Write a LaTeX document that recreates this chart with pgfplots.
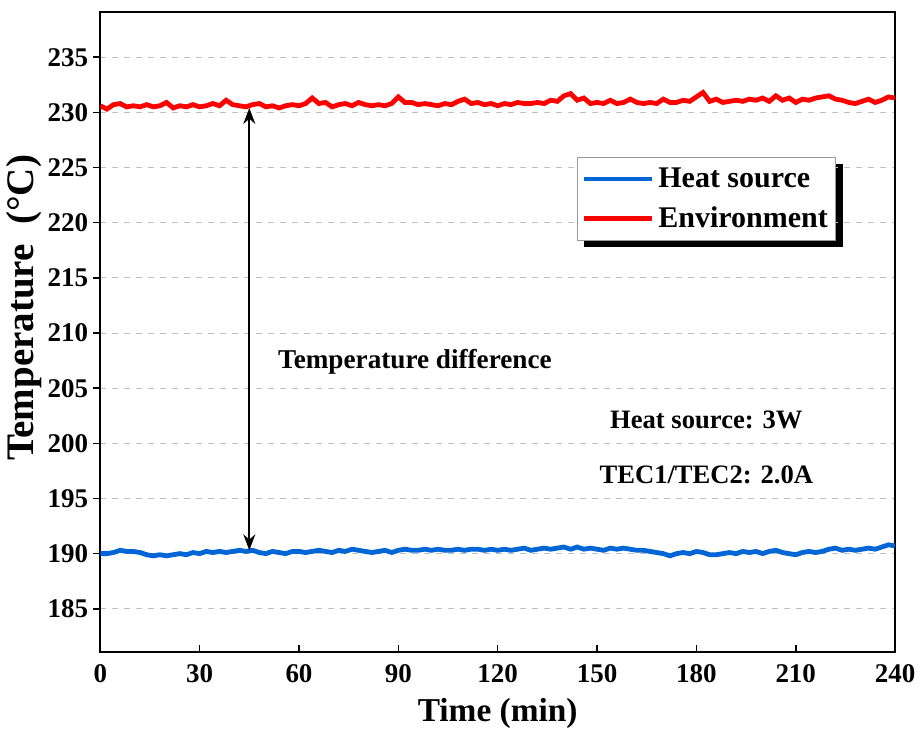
\documentclass[border=0pt]{standalone}
\usepackage{pgfplots}
\pgfplotsset{compat=1.18}
\usepackage{pgfplotstable}
\usepackage{fontspec}
\setmainfont{Liberation Serif}
\usetikzlibrary{arrows.meta,backgrounds}
\definecolor{hsblue}{RGB}{0,102,214}
\definecolor{envred}{RGB}{255,0,0}

% heat source temperature (min, degC)
\pgfplotstableread{
t T
0 190.0
2 190.0
4 190.1
6 190.3
8 190.2
10 190.2
12 190.1
14 189.9
16 189.8
18 189.9
20 189.8
22 189.9
24 190.0
26 189.9
28 190.1
30 190.0
32 190.2
34 190.1
36 190.2
38 190.1
40 190.2
42 190.3
44 190.2
46 190.3
48 190.1
50 190.0
52 190.2
54 190.1
56 190.0
58 190.2
60 190.2
62 190.1
64 190.2
66 190.3
68 190.2
70 190.1
72 190.3
74 190.2
76 190.4
78 190.3
80 190.2
82 190.1
84 190.2
86 190.3
88 190.1
90 190.3
92 190.4
94 190.3
96 190.3
98 190.4
100 190.3
102 190.4
104 190.3
106 190.3
108 190.4
110 190.3
112 190.4
114 190.4
116 190.3
118 190.4
120 190.3
122 190.4
124 190.3
126 190.4
128 190.5
130 190.3
132 190.4
134 190.5
136 190.4
138 190.5
140 190.6
142 190.4
144 190.6
146 190.4
148 190.5
150 190.4
152 190.3
154 190.5
156 190.4
158 190.5
160 190.4
162 190.3
164 190.3
166 190.2
168 190.1
170 190.0
172 189.8
174 190.0
176 190.1
178 190.0
180 190.2
182 190.1
184 189.9
186 189.9
188 190.0
190 190.1
192 190.0
194 190.2
196 190.1
198 190.2
200 190.0
202 190.2
204 190.3
206 190.1
208 190.0
210 189.9
212 190.1
214 190.2
216 190.1
218 190.2
220 190.4
222 190.5
224 190.3
226 190.4
228 190.3
230 190.4
232 190.5
234 190.4
236 190.6
238 190.8
240 190.7
}\heatsource

% environment temperature (min, degC)
\pgfplotstableread{
t T
0 230.6
2 230.3
4 230.7
6 230.8
8 230.5
10 230.6
12 230.5
14 230.7
16 230.5
18 230.6
20 230.9
22 230.4
24 230.6
26 230.5
28 230.7
30 230.5
32 230.6
34 230.8
36 230.6
38 231.1
40 230.7
42 230.6
44 230.5
46 230.7
48 230.8
50 230.5
52 230.6
54 230.4
56 230.6
58 230.7
60 230.6
62 230.8
64 231.3
66 230.8
68 230.9
70 230.5
72 230.7
74 230.8
76 230.6
78 230.9
80 230.7
82 230.6
84 230.7
86 230.6
88 230.8
90 231.4
92 230.9
94 230.9
96 230.7
98 230.8
100 230.7
102 230.6
104 230.8
106 230.7
108 231.0
110 231.2
112 230.8
114 230.9
116 230.7
118 230.8
120 230.6
122 230.8
124 230.7
126 230.9
128 230.8
130 230.8
132 230.9
134 230.8
136 231.1
138 231.0
140 231.5
142 231.7
144 231.1
146 231.3
148 230.8
150 230.9
152 230.8
154 231.1
156 230.8
158 230.9
160 231.2
162 230.9
164 230.8
166 230.9
168 230.8
170 231.2
172 230.9
174 230.9
176 231.1
178 231.0
180 231.4
182 231.8
184 231.0
186 231.2
188 230.9
190 231.0
192 231.1
194 231.0
196 231.2
198 231.1
200 231.3
202 231.0
204 231.5
206 231.1
208 231.3
210 230.9
212 231.2
214 231.1
216 231.3
218 231.4
220 231.5
222 231.2
224 231.1
226 230.9
228 230.8
230 231.0
232 231.2
234 230.9
236 231.1
238 231.4
240 231.3
}\environment

\begin{document}
\begin{tikzpicture}
\begin{axis}[
  name=ax,
  scale only axis,
  width=397.5pt, height=320pt,
  xmin=0, xmax=240, ymin=181.1, ymax=239.1,
  xtick={0,30,...,240}, ytick={185,190,...,235},
  xticklabels={0,30,60,90,120,150,180,210,240},
  yticklabels={185,190,195,200,205,210,215,220,225,230,235},
  xtick pos=bottom, ytick pos=left,
  tick align=inside,
  major tick length=3.5pt,
  y tick style={xshift=-3.5pt},
  tick style={black, line width=0.8pt},
  axis line style={line width=1pt},
  ymajorgrids,
  grid style={gray!50, dashed, line width=0.5pt},
  ticklabel style={font=\fontsize{13.5}{16}\selectfont\bfseries},
  yticklabel style={xshift=-2.5pt},
  xticklabel style={yshift=-3pt},
  xlabel={Time (min)},
  ylabel={Temperature\ \ (°C)},
  xlabel style={font=\fontsize{16.7}{19}\selectfont\bfseries, yshift=-1pt},
  ylabel style={font=\fontsize{19.5}{22}\selectfont\bfseries, yshift=-4pt, xshift=12pt},
  legend cell align=left,
  legend image code/.code={\draw[#1] (0pt,0pt) -- (34pt,0pt);},
  legend style={at={(rel axis cs:0.6,0.773)}, anchor=north west,
    name=leg, draw=black!40, fill=white,
    font=\fontsize{15}{17}\selectfont\bfseries,
    inner xsep=2pt, inner ysep=3pt, row sep=4pt},
]
\addplot[hsblue, line width=2.4pt] table[x=t, y=T] {\heatsource};
\addlegendentry{Heat source}
\addplot[envred, line width=2.4pt] table[x=t, y=T] {\environment};
\addlegendentry{Environment}

\draw[{Stealth[length=8pt,width=6pt]}-{Stealth[length=8pt,width=6pt]}, line width=1pt]
  (axis cs:45,190.3) -- (axis cs:45,230.4);
\node[font=\fontsize{13.6}{15}\selectfont\bfseries] at (axis cs:95,207.4) {Temperature difference};
\node[font=\fontsize{13.3}{15}\selectfont\bfseries] at (axis cs:183,202.1) {Heat source: 3W};
\node[font=\fontsize{13.3}{15}\selectfont\bfseries] at (axis cs:183,197.1) {TEC1/TEC2: 2.0A};
\end{axis}
% legend shadow and top margin
\begin{scope}[on background layer]
\fill[black] ([shift={(3.5pt,-3.5pt)}]leg.south west) rectangle ([shift={(3.5pt,-3.5pt)}]leg.north east);
\end{scope}
\path ([yshift=6pt]ax.north);
\end{tikzpicture}
\end{document}
